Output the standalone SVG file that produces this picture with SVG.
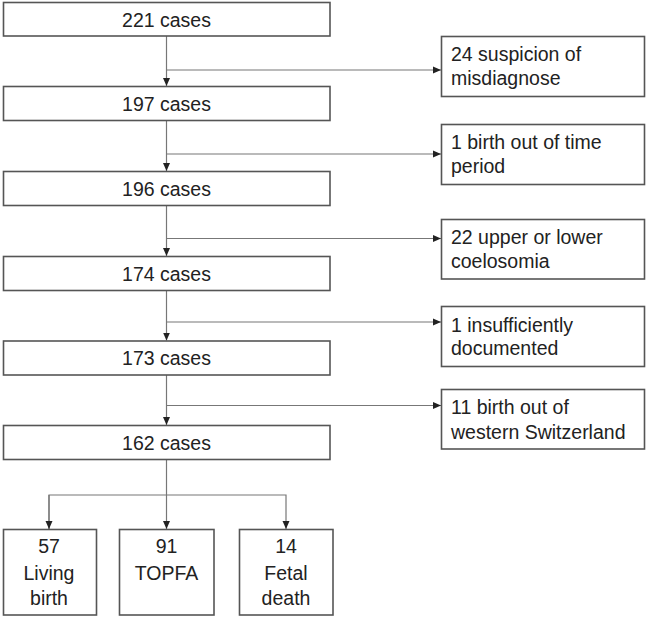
<svg xmlns="http://www.w3.org/2000/svg" width="646" height="618" viewBox="0 0 646 618">
<defs>
<marker id="ah" viewBox="0 0 8 8" refX="8" refY="4" markerWidth="8" markerHeight="8" markerUnits="userSpaceOnUse" orient="auto">
<path d="M0,0.5 L8,4 L0,7.5 Z" fill="#222"/>
</marker>
<style>
rect{fill:#fff;stroke:#555;stroke-width:1.6}
text{font-family:"Liberation Sans",Arial,sans-serif;font-size:19.5px;fill:#222}
.c{text-anchor:middle}
.ln{fill:none;stroke:#777;stroke-width:1.2}
</style>
</defs>
<g id="connectors">
<path class="ln" d="M166.5,36 V86" marker-end="url(#ah)"/>
<path class="ln" d="M166.5,70 H441" marker-end="url(#ah)"/>
<path class="ln" d="M166.5,120 V171" marker-end="url(#ah)"/>
<path class="ln" d="M166.5,154 H441" marker-end="url(#ah)"/>
<path class="ln" d="M166.5,205 V256" marker-end="url(#ah)"/>
<path class="ln" d="M166.5,238.5 H441" marker-end="url(#ah)"/>
<path class="ln" d="M166.5,290 V340.5" marker-end="url(#ah)"/>
<path class="ln" d="M166.5,322 H441" marker-end="url(#ah)"/>
<path class="ln" d="M166.5,374.5 V425" marker-end="url(#ah)"/>
<path class="ln" d="M166.5,405.5 H441" marker-end="url(#ah)"/>
<path class="ln" d="M166.5,459.5 V529" marker-end="url(#ah)"/>
<path class="ln" d="M49,529 V495 H286 V529" marker-end="url(#ah)"/>
<path class="ln" d="M49,495 V529" marker-end="url(#ah)"/>
</g>
<g id="n221"><rect x="3.5" y="2.5" width="326.5" height="33.5"/><text class="c" x="166.5" y="26.5">221 cases</text></g>
<g id="n197"><rect x="3.5" y="86.5" width="326.5" height="34"/><text class="c" x="166.5" y="110.5">197 cases</text></g>
<g id="n196"><rect x="3.5" y="171.5" width="326.5" height="34"/><text class="c" x="166.5" y="195.5">196 cases</text></g>
<g id="n174"><rect x="3.5" y="256.5" width="326.5" height="34"/><text class="c" x="166.5" y="280.5">174 cases</text></g>
<g id="n173"><rect x="3.5" y="341" width="326.5" height="34"/><text class="c" x="166.5" y="365">173 cases</text></g>
<g id="n162"><rect x="3.5" y="425.5" width="326.5" height="34"/><text class="c" x="166.5" y="449.5">162 cases</text></g>
<g id="x24"><rect x="441.5" y="36.5" width="203" height="60"/><text x="451" y="61">24 suspicion of</text><text x="451" y="84.5">misdiagnose</text></g>
<g id="x1a"><rect x="441.5" y="124.5" width="203" height="60"/><text x="451" y="149">1 birth out of time</text><text x="451" y="172.5">period</text></g>
<g id="x22"><rect x="441.5" y="219.5" width="203" height="59.5"/><text x="451" y="244">22 upper or lower</text><text x="451" y="267.5">coelosomia</text></g>
<g id="x1b"><rect x="441.5" y="306.5" width="203" height="60"/><text x="451" y="331.5">1 insufficiently</text><text x="451" y="355">documented</text></g>
<g id="x11"><rect x="441.5" y="389.5" width="203" height="59.5"/><text x="451" y="413.5">11 birth out of</text><text x="451" y="439">western Switzerland</text></g>
<g id="b57"><rect x="3.5" y="529.5" width="93" height="85.5"/><text class="c" x="49" y="553">57</text><text class="c" x="49" y="580">Living</text><text class="c" x="49" y="605">birth</text></g>
<g id="b91"><rect x="119.5" y="529.5" width="94.5" height="85.5"/><text class="c" x="166.5" y="553">91</text><text class="c" x="166.5" y="580">TOPFA</text></g>
<g id="b14"><rect x="239.5" y="529.5" width="93.5" height="85.5"/><text class="c" x="286" y="553">14</text><text class="c" x="286" y="580">Fetal</text><text class="c" x="286" y="605">death</text></g>
</svg>
